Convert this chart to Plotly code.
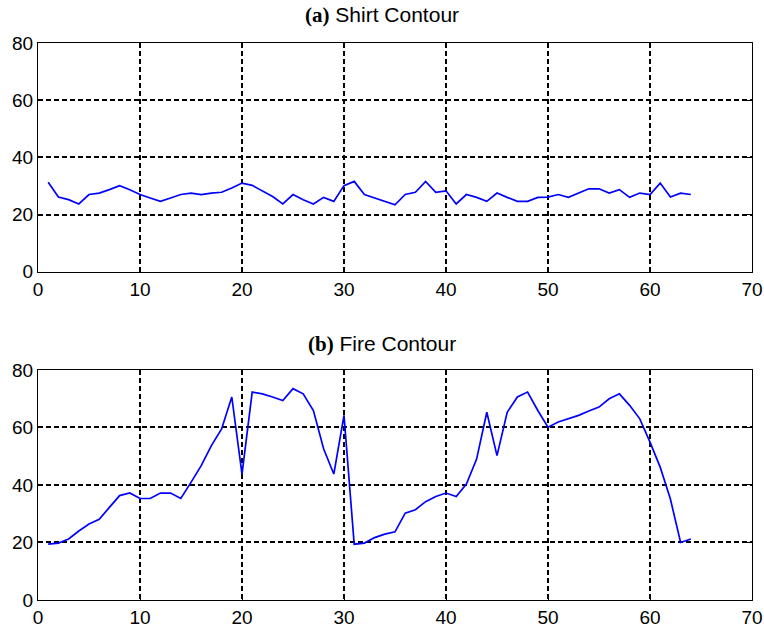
import plotly.graph_objects as go

x_idx = list(range(1, 65))
shirt = [31.3, 26.1, 25.2, 23.7, 27.0, 27.5, 28.7, 30.1, 28.7, 27.0,
         25.8, 24.6, 25.8, 27.0, 27.5, 27.0, 27.5, 27.8, 29.3, 31.0,
         30.2, 28.1, 26.3, 23.7, 27.0, 25.2, 23.7, 26.0, 24.6, 30.1,
         31.6, 27.0, 25.8, 24.6, 23.4, 27.0, 27.8, 31.6, 27.8, 28.3,
         23.7, 27.0, 26.0, 24.6, 27.5, 26.0, 24.6, 24.6, 26.0, 26.1,
         27.0, 26.0, 27.5, 29.0, 29.0, 27.5, 28.7, 26.0, 27.5, 27.0,
         31.0, 26.1, 27.5, 27.0]
fire = [19.4, 19.8, 21.2, 24.0, 26.4, 28.1, 32.2, 36.3, 37.2, 35.3,
        35.3, 37.2, 37.2, 35.3, 40.9, 46.7, 53.7, 59.5, 70.6, 43.8,
        72.3, 71.7, 70.6, 69.4, 73.5, 71.7, 65.9, 52.6, 43.8, 64.2,
        19.4, 19.8, 21.7, 22.9, 23.7, 30.2, 31.4, 34.2, 36.0, 37.2,
        36.0, 40.3, 49.0, 65.3, 50.2, 65.3, 70.6, 72.3, 65.9, 60.1,
        61.9, 63.0, 64.2, 65.7, 67.1, 70.0, 71.7, 67.7, 63.0, 54.9,
        46.2, 35.1, 20.0, 21.2]
x_ticks = [0, 10, 20, 30, 40, 50, 60, 70]
y_ticks = [0, 20, 40, 60, 80]
titles = ["(a)", "Shirt Contour", "(b)", "Fire Contour"]

SANS = "Liberation Sans, Arial, sans-serif"

fig = go.Figure()
fig.add_trace(go.Scatter(x=x_idx, y=shirt, mode="lines",
                         line=dict(color="rgb(0,0,255)", width=1.7),
                         xaxis="x", yaxis="y", showlegend=False))
fig.add_trace(go.Scatter(x=x_idx, y=fire, mode="lines",
                         line=dict(color="rgb(0,0,255)", width=1.7),
                         xaxis="x2", yaxis="y2", showlegend=False))

axis_common = dict(
    showline=True, linecolor="black", linewidth=1.3, mirror="allticks",
    ticks="inside", ticklen=5, tickcolor="black",
    showgrid=True, gridcolor="black", griddash="5px,3px", gridwidth=1.5,
    zeroline=False,
    tickfont=dict(family=SANS, size=19, color="black"),
)

fig.update_layout(
    width=775, height=640,
    margin=dict(l=38, r=12, t=43, b=30),
    paper_bgcolor="white", plot_bgcolor="white",
    xaxis=dict(domain=[0, 1], range=[0, 70], tickvals=x_ticks, anchor="y", **axis_common),
    yaxis=dict(domain=[0.5894, 1], range=[0, 80], tickvals=y_ticks, anchor="x", **axis_common),
    xaxis2=dict(domain=[0, 1], range=[0, 70], tickvals=x_ticks, anchor="y2", **axis_common),
    yaxis2=dict(domain=[0, 0.413], range=[0, 80], tickvals=y_ticks, anchor="x2", **axis_common),
)

def title_text(tag, name):
    return ("<span style='font-family:Liberation Serif, Times New Roman, serif;font-weight:bold'>" + tag +
            "</span> " + name)

fig.add_annotation(text=title_text(titles[0], titles[1]), xref="paper", yref="paper",
                   x=0.482, y=1, yshift=28, yanchor="middle", showarrow=False,
                   font=dict(family=SANS, size=21, color="black"))
fig.add_annotation(text=title_text(titles[2], titles[3]), xref="paper", yref="paper",
                   x=0.482, y=0.413, yshift=26, yanchor="middle", showarrow=False,
                   font=dict(family=SANS, size=21, color="black"))

fig.write_html(
    "out.html",
    config={"displayModeBar": False},
    post_script=("document.documentElement.style.margin='0';"
                 "document.documentElement.style.overflow='hidden';"
                 "document.body.style.margin='0';"
                 "document.body.style.overflow='hidden';"),
)
